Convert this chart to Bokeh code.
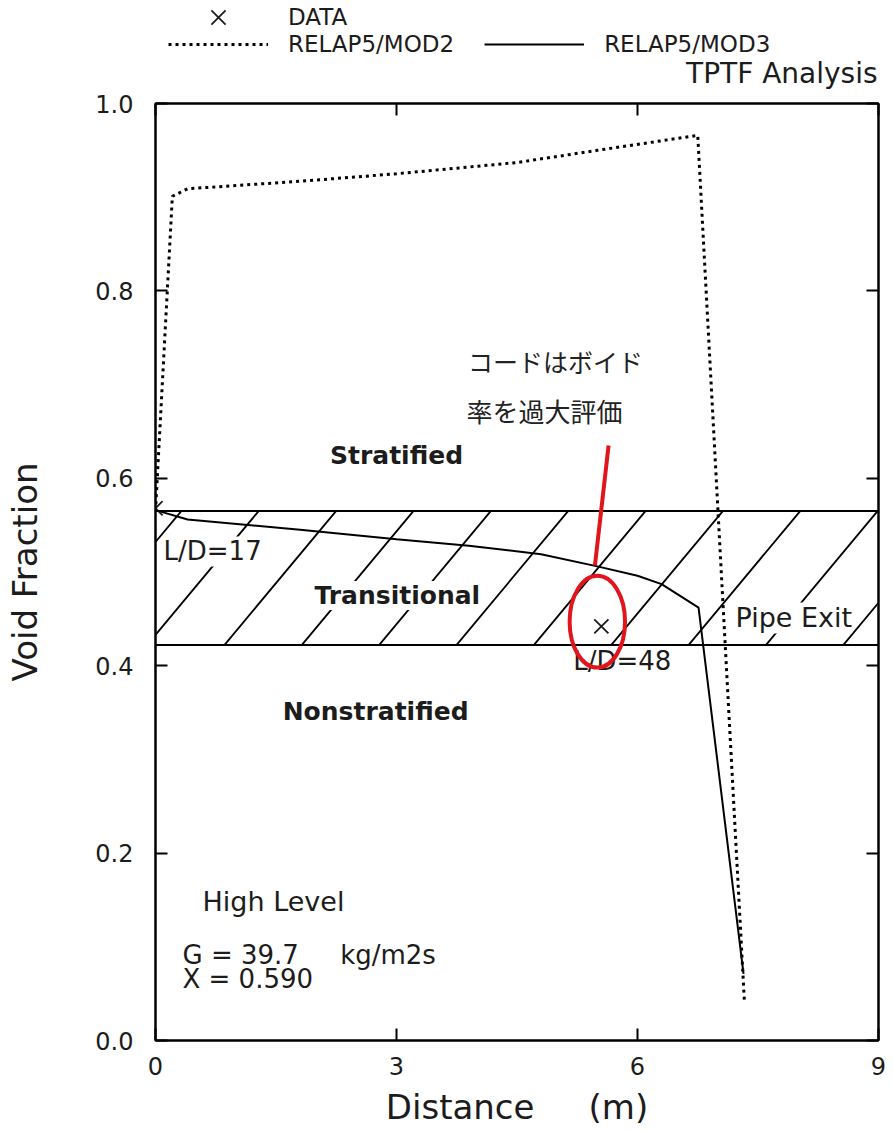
import numpy as np
from bokeh.plotting import figure
from bokeh.layouts import column
from bokeh.models import (LinearAxis, FixedTicker, Range1d, Label, Legend, LegendItem,
                          Span, PrintfTickFormatter, CustomJSTickFormatter)
from bokeh.embed import file_html
from bokeh.resources import INLINE

# ---------------- data ----------------
mod2_x = [0.0, 0.21, 0.4, 1.8, 3.0, 4.5, 5.5, 6.75, 7.33]
mod2_y = [0.565, 0.901, 0.909, 0.917, 0.925, 0.937, 0.950, 0.966, 0.043]

mod3_x = [0.0, 0.4, 1.8, 3.0, 3.9, 4.8, 5.5, 6.0, 6.3, 6.76, 7.32]
mod3_y = [0.566, 0.556, 0.545, 0.535, 0.528, 0.519, 0.506, 0.496, 0.487, 0.462, 0.071]

data_x = [0.0, 5.55]
data_y = [0.568, 0.442]

band_low = 0.422
band_high = 0.565

x_ticks = [0, 3, 6, 9]
y_ticks = [0.0, 0.2, 0.4, 0.6, 0.8, 1.0]

# annotation anchors
pointer_x = [5.64, 5.47]
pointer_y = [0.635, 0.507]
ellipse_center = (5.50, 0.447)
ellipse_size = (0.69, 0.098)

FONT = "DejaVu Sans"
JFONT = "Noto Sans CJK JP"
RED = "#e3151c"
INK = "#1c1c1c"

W = 890
HEAD_H = 90
LEFT_B = 155
RIGHT_B = 12

# ======================= main plot =======================
p = figure(width=W, height=1039, x_range=Range1d(0, 9), y_range=Range1d(0, 1),
           output_backend="svg", toolbar_location=None, title_location=None,
           x_axis_location=None, y_axis_location=None,
           min_border_left=LEFT_B, min_border_right=RIGHT_B, min_border_top=13, min_border_bottom=89)
p.grid.visible = False
p.outline_line_color = "black"
p.outline_line_width = 2
p.background_fill_color = "white"
p.border_fill_color = "white"


def style_axis(ax, labels=True):
    ax.major_tick_in = 12
    ax.major_tick_out = 0
    ax.minor_tick_in = 0
    ax.minor_tick_out = 0
    ax.axis_line_color = "black"
    ax.axis_line_width = 2
    ax.major_tick_line_width = 2
    ax.major_tick_line_color = "black"
    ax.major_label_text_font = FONT
    ax.major_label_text_font_size = "24px"
    ax.major_label_text_color = INK
    ax.axis_label_text_font = FONT
    ax.axis_label_text_font_style = "normal"
    ax.axis_label_text_font_size = "34px"
    ax.axis_label_text_color = INK
    if not labels:
        ax.formatter = CustomJSTickFormatter(code="return ''")
        ax.major_label_standoff = 0
        ax.major_label_text_font_size = "1px"


left = LinearAxis(ticker=FixedTicker(ticks=y_ticks), formatter=PrintfTickFormatter(format="%.1f"),
                  axis_label="Void Fraction")
style_axis(left)
left.major_label_standoff = 22
left.axis_label_standoff = 47
p.add_layout(left, "left")

bottom = LinearAxis(ticker=FixedTicker(ticks=x_ticks), axis_label="Distance\u00a0\u00a0\u00a0\u00a0\u00a0(m)")
style_axis(bottom)
bottom.major_label_standoff = 16
bottom.axis_label_standoff = 9
p.add_layout(bottom, "below")

right = LinearAxis(ticker=FixedTicker(ticks=y_ticks))
style_axis(right, labels=False)
p.add_layout(right, "right")

top = LinearAxis(ticker=FixedTicker(ticks=x_ticks))
style_axis(top, labels=False)
p.add_layout(top, "above")

# transitional band with hatching
for yv in (band_low, band_high):
    p.add_layout(Span(location=yv, dimension="width", line_color="black", line_width=2))

hatch_step = 0.963
hatch_run = 1.39
tops = 3.21 + hatch_step * np.arange(-6, 9)
hx0, hy0, hx1, hy1 = [], [], [], []
for t in tops:
    b = t - hatch_run
    if t <= 0 or b >= 9:
        continue
    xa, ya, xb, yb = b, band_low, t, band_high
    if xa < 0:
        f = (0 - b) / hatch_run
        xa, ya = 0.0, band_low + f * (band_high - band_low)
    if xb > 9:
        f = (9 - b) / hatch_run
        xb, yb = 9.0, band_low + f * (band_high - band_low)
    hx0.append(xa); hy0.append(ya); hx1.append(xb); hy1.append(yb)
p.segment(hx0, hy0, hx1, hy1, line_color="black", line_width=1.8)

# series
MOD2_STYLE = dict(line_color="black", line_width=3, line_dash="3 4")
MOD3_STYLE = dict(line_color="black", line_width=2)
DATA_STYLE = dict(marker="x", size=20, line_color=INK, line_width=1.8)
p.line(mod2_x, mod2_y, **MOD2_STYLE)
p.line(mod3_x, mod3_y, **MOD3_STYLE)
p.scatter(data_x, data_y, **DATA_STYLE)


def lab(fig, x, y, text, size="26px", style="normal", align="left", bg=None, font=FONT, color=INK):
    l = Label(x=x, y=y, text=text, text_font=font, text_font_size=size,
              text_font_style=style, text_align=align, text_baseline="middle", text_color=color)
    if bg:
        l.background_fill_color = bg
        l.background_fill_alpha = 1.0
    fig.add_layout(l)
    return l

lab(p, 3.00, 0.624, "Stratified", size="25px", style="bold", align="center")
lab(p, 3.01, 0.475, "Transitional", size="25px", style="bold", align="center", bg="white")
lab(p, 2.74, 0.351, "Nonstratified", size="25px", style="bold", align="center")
lab(p, 0.10, 0.522, "L/D=17", bg="white")
lab(p, 5.20, 0.405, "L/D=48")
lab(p, 7.22, 0.451, "Pipe Exit", size="27px", bg="white")
lab(p, 0.585, 0.148, "High Level", size="27px")
lab(p, 0.336, 0.0915, "G = 39.7\u00a0\u00a0\u00a0\u00a0\u00a0kg/m2s", size="26px")
lab(p, 0.336, 0.0655, "X = 0.590", size="26px")
lab(p, 3.89, 0.725, "コードはボイド", size="25px", font=JFONT, color="#222222")
lab(p, 3.87, 0.672, "率を過大評価", size="26px", font=JFONT, color="#222222")

# red callout
p.line(pointer_x, pointer_y, line_color=RED, line_width=4, level="overlay")
p.ellipse(x=[ellipse_center[0]], y=[ellipse_center[1]], width=[ellipse_size[0]], height=[ellipse_size[1]],
          fill_color=None, line_color=RED, line_width=4, level="overlay")

# ======================= header (legend + subtitle) =======================
# frame of the header lines up with the main frame; its x range is in page pixels
h = figure(width=W, height=HEAD_H, x_range=Range1d(LEFT_B, W - RIGHT_B), y_range=Range1d(0, HEAD_H),
           output_backend="svg", toolbar_location=None, title_location=None,
           x_axis_location=None, y_axis_location=None,
           min_border_left=LEFT_B, min_border_right=RIGHT_B, min_border_top=0, min_border_bottom=0)
h.grid.visible = False
h.outline_line_color = None
h.background_fill_color = "white"
h.border_fill_color = "white"

# legend keys: carry the series styles only (a single NaN point, so nothing is plotted)
k_mod2 = h.line(x=[np.nan], y=[np.nan], **MOD2_STYLE)
k_mod3 = h.line(x=[np.nan], y=[np.nan], **MOD3_STYLE)
k_data = h.scatter(x=[np.nan], y=[np.nan], **DATA_STYLE)

common = dict(orientation="horizontal", padding=0, margin=0, border_line_color=None,
              background_fill_alpha=0, label_text_font=FONT, label_text_font_size="23px",
              label_text_color=INK, label_standoff=20, glyph_width=100)
leg2 = Legend(items=[LegendItem(label="RELAP5/MOD2", renderers=[k_mod2]),
                     LegendItem(label="RELAP5/MOD3", renderers=[k_mod3])],
              location=(13, 33), spacing=30, glyph_height=22, **common)
leg1 = Legend(items=[LegendItem(label="DATA", renderers=[k_data])], location=(13, 48),
              glyph_height=50, **common)
h.add_layout(leg2)
h.add_layout(leg1)

lab(h, 877, 17, "TPTF Analysis", size="28px", align="right")

open("out.html", "w").write(file_html(column(h, p, spacing=0), INLINE))
